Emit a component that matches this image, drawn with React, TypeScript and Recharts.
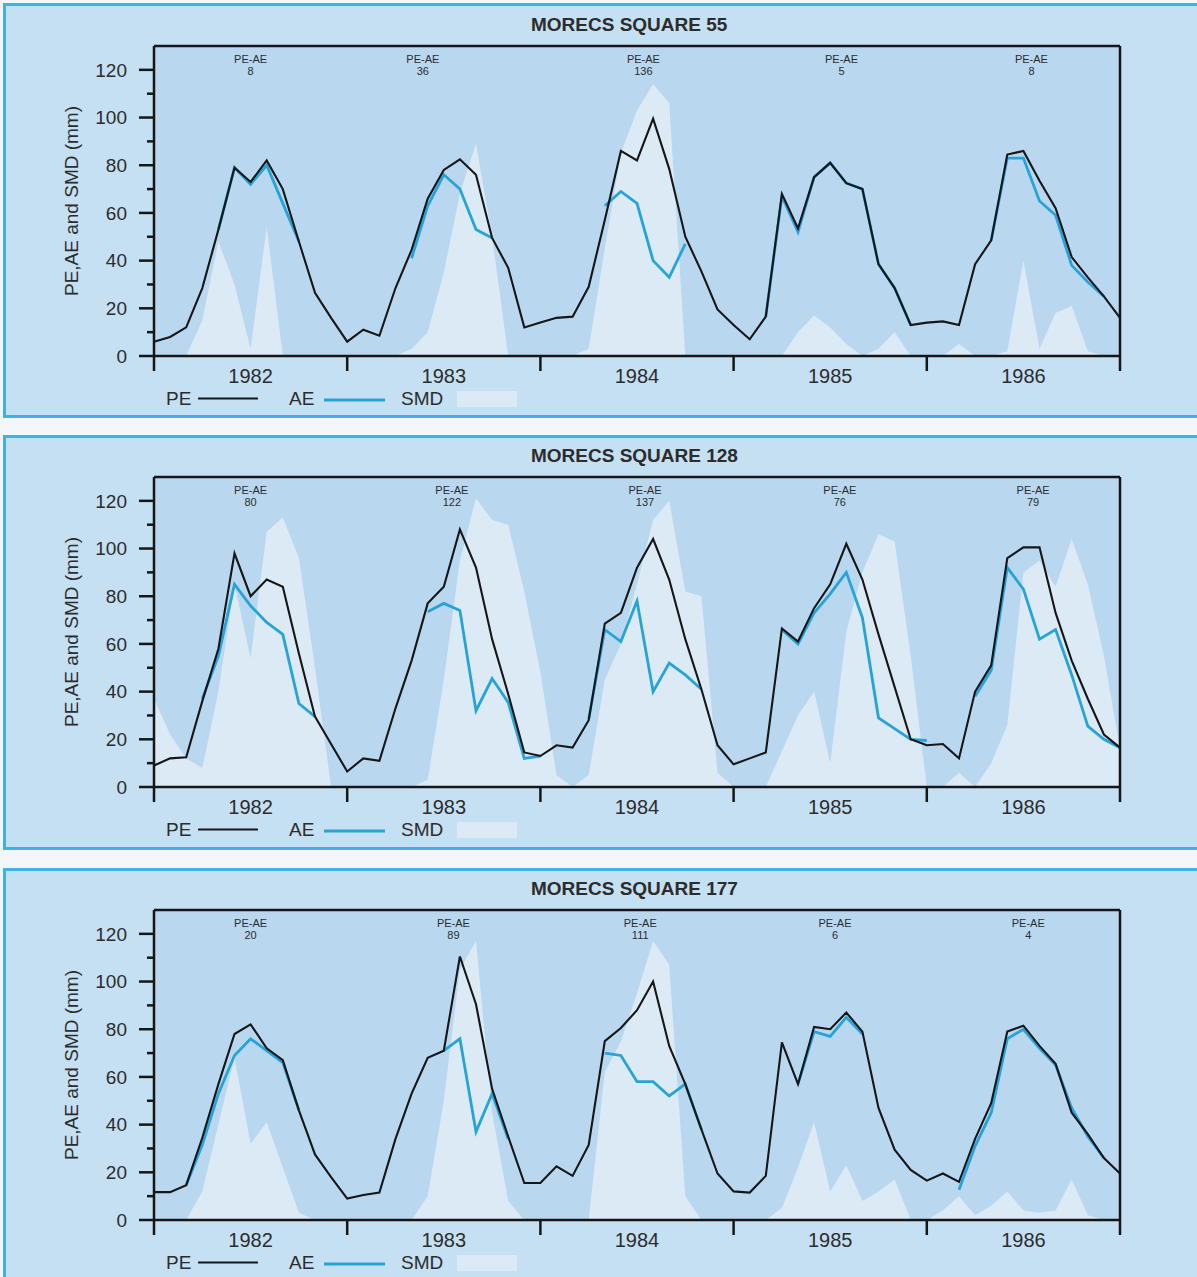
import React from 'react';
import {
  ComposedChart, Line, Area, XAxis, YAxis, CartesianGrid, ReferenceLine, ReferenceDot,
} from 'recharts';

// ---------- data ----------
// month index from January 1982 (0) to the end of 1986 (60)
const monthIndex: number[] = Array.from({ length: 61 }, (_, i) => i);
const years = ['1982', '1983', '1984', '1985', '1986'];
const xTicks = [0, 6, 12, 18, 24, 30, 36, 42, 48, 54, 60];
const yTicksLeft = [0, 10, 20, 30, 40, 50, 60, 70, 80, 90, 100, 110, 120];
const yTicksRight = [10, 20, 30, 40, 50, 60, 70, 80, 90, 100, 110, 120];

const titles = ['MORECS SQUARE 55', 'MORECS SQUARE 128', 'MORECS SQUARE 177'];

const pe55 = [
  6, 8, 12, 28.5, 53, 79, 73, 82, 70, 48,
  26.5, 16, 6, 11, 8.5, 28.5, 44.5, 66, 78, 82.5,
  76, 49.5, 37, 12, 14, 16, 16.5, 29, 57, 86,
  82, 99.5, 78.5, 50, 35.5, 19.5, 13, 7, 16.5, 68,
  53.5, 75, 81, 72.5, 70, 38.5, 28.5, 13, 14, 14.5,
  13, 38.5, 48.5, 84.5, 86, 73.5, 62, 41.5, 33, 25,
  16,
];
const ae55 = [
  null, null, null, null, 53, 79, 72, 80, 64, 48,
  null, null, null, null, null, null, 41, 63, 76, 70,
  53, 49.5, null, null, null, null, null, null, 63, 69,
  64, 40, 33, 47, null, null, null, null, 16.5, 67,
  52, 75, 81, 72.5, 70, 38.5, 28.5, 13, null, null,
  null, null, 48.5, 83, 83, 65, 59, 38, 31, 25,
  null,
];
const smd55 = [
  0, 0, 0, 15, 48, 30, 3, 54, 0, 0,
  0, 0, 0, 0, 0, 0, 3, 10, 35, 68,
  89, 50, 0, 0, 0, 0, 0, 3, 45, 85,
  103, 114, 106, 0, 0, 0, 0, 0, 0, 0,
  10, 17, 12, 5, 0, 3, 10, 0, 0, 0,
  5, 0, 0, 2, 40, 3, 18, 21, 2, 0,
  0,
];
const peae55 = [8, 36, 136, 5, 8];
const peaeAt55 = [6, 16.7, 30.4, 42.7, 54.5];

const pe128 = [
  9, 12, 12.5, 36, 58, 98, 80, 87, 84, 56,
  29.5, 18, 6.5, 12, 11, 33, 53, 77, 84, 108,
  92, 62, 39, 14.5, 13, 17.5, 16.5, 28, 68.5, 73,
  92, 104, 87, 62, 41, 17.5, 9.5, 12, 14.5, 66.5,
  61, 75, 85, 102, 87, 64, 42, 20, 17.5, 18,
  12, 40, 51, 96, 100.5, 100.5, 73, 53, 37, 22,
  16.5,
];
const ae128 = [
  null, null, null, 37, 55, 85, 76, 69, 64, 35,
  29.5, null, null, null, null, null, null, 73.5, 77, 74,
  32, 45.5, 35.5, 12, 13, null, null, 28.5, 66, 61,
  78, 40, 52, 47, 41, null, null, null, null, 66,
  60, 73, 81, 90, 71, 29, 24.5, 20, 19.5, null,
  null, 38, 49, 92, 83, 62, 66, 47, 25.5, 20,
  16.5,
];
const smd128 = [
  37, 22, 12, 8, 40, 85, 54, 107, 113, 96,
  50, 0, 0, 0, 0, 0, 0, 3, 45, 95,
  121, 112, 110, 82, 48, 5, 0, 5, 45, 60,
  85, 112, 120, 82, 80, 6, 0, 0, 0, 15,
  30, 40, 10, 65, 90, 106, 103, 55, 0, 0,
  6, 0, 10, 26, 90, 95, 84, 104, 85, 55,
  16,
];
const peae128 = [80, 122, 137, 76, 79];
const peaeAt128 = [6, 18.5, 30.5, 42.6, 54.6];

const pe177 = [
  11.7, 11.7, 14.6, 34.5, 57, 78, 82, 72, 67, 46,
  27.5, 18, 9, 10.5, 11.5, 34, 53, 68, 71, 110.5,
  90.5, 55, 35, 15.5, 15.5, 22.5, 18.5, 31.5, 75, 80.5,
  88, 100, 73, 57, 38, 19.5, 12, 11.5, 18.5, 74.5,
  57, 81, 80, 87, 79, 47, 29.5, 21, 16.5, 19.5,
  16, 34, 49, 79, 81.5, 73, 65.5, 45, 36, 26,
  19.5,
];
const ae177 = [
  null, null, 14.6, 31.5, 53, 69, 76, 71, 66, 46,
  null, null, null, null, null, null, null, null, 71, 76,
  37, 53, 34, null, null, null, null, null, 70, 69,
  58, 58, 52, 57, 38, null, null, null, null, null,
  57, 79, 77, 85, 78, null, null, null, null, null,
  12.7, 31, 45, 76, 80, 72, 65, 47, 35, 26,
  null,
];
const smd177 = [
  0, 0, 0, 12, 40, 68, 32, 41, 22, 3,
  0, 0, 0, 0, 0, 0, 0, 10, 50, 105,
  117, 45, 8, 0, 0, 0, 0, 0, 62, 75,
  95, 117, 107, 10, 0, 0, 0, 0, 0, 5,
  22, 41, 12, 23, 8, 12, 17, 0, 0, 4,
  10, 2, 6, 12, 4, 3, 4, 17, 2, 0,
  0,
];
const peae177 = [20, 89, 111, 6, 4];
const peaeAt177 = [6, 18.6, 30.2, 42.3, 54.3];

// ---------- styles ----------
const W = 1197;
const CHART_H = 413;
const FONT = '"Liberation Sans", Arial, Helvetica, sans-serif';
const PANEL_BG = '#c5e0f3';
const PLOT_BG = '#b9d8f0';
const SMD_FILL = '#dceaf6';
const BORDER = '#3fb2e5';
const INK = '#161616';
const AE_COL = '#26a3d8';
const TEXT = '#2c2c2c';

const XTick = (props: any) => {
  const { x, y, payload } = props;
  const v = payload.value as number;
  if (v % 12 === 0) {
    return <line x1={x} x2={x} y1={y} y2={y + 15} stroke={INK} strokeWidth={2.5} />;
  }
  const idx = Math.round((v - 6) / 12);
  return (
    <text x={x} y={y + 27} textAnchor="middle" fontSize={20} fill={TEXT} fontFamily={FONT}>
      {years[idx]}
    </text>
  );
};

const LeftTick = (props: any) => {
  const { x, y, payload } = props;
  const v = payload.value as number;
  const major = v % 20 === 0;
  return (
    <g>
      <line x1={x} x2={x - (major ? 15 : 7)} y1={y} y2={y} stroke={INK} strokeWidth={2.5} />
      {major && (
        <text x={x - 27} y={y} dy="0.36em" textAnchor="end" fontSize={19} fill={TEXT} fontFamily={FONT}>
          {v}
        </text>
      )}
    </g>
  );
};

const RightTick = (props: any) => {
  const { x, y, payload } = props;
  const v = payload.value as number;
  const major = v % 20 === 0;
  return <line x1={x} x2={x + (major ? 14 : 7)} y1={y} y2={y} stroke={INK} strokeWidth={2.5} />;
};

type PanelProps = {
  top: number;
  chartTop: number;
  title: string;
  pe: (number | null)[];
  ae: (number | null)[];
  smd: (number | null)[];
  peae: number[];
  peaeAt: number[];
};

function Panel({ top, chartTop, title, pe, ae, smd, peae, peaeAt }: PanelProps) {
  const data = monthIndex.map((m, i) => ({ m, pe: pe[i], ae: ae[i], smd: smd[i] }));
  const rel = chartTop;
  return (
    <>
      <div
        style={{
          position: 'absolute', left: 3, top, width: 1210, height: 415,
          border: `3px solid ${BORDER}`, background: PANEL_BG, boxSizing: 'border-box',
        }}
      />
      <div style={{ position: 'absolute', left: 0, top: rel, width: W, height: CHART_H }}>
        <ComposedChart
          width={W}
          height={CHART_H}
          data={data}
          margin={{ top: 42, right: 57, bottom: 31, left: 94 }}
        >
          <CartesianGrid horizontal={false} vertical={false} fill={PLOT_BG} stroke="none" />
          <XAxis
            type="number"
            dataKey="m"
            domain={[0, 60]}
            ticks={xTicks}
            interval={0}
            tickSize={0}
            tickMargin={0}
            height={30}
            tickLine={false}
            axisLine={{ stroke: INK, strokeWidth: 2.5 }}
            tick={(p: any) => <XTick {...p} />}
          />
          <YAxis
            type="number"
            domain={[0, 130]}
            ticks={yTicksLeft}
            interval={0}
            width={60}
            tickSize={0}
            tickMargin={0}
            tickLine={false}
            axisLine={{ stroke: INK, strokeWidth: 2.5 }}
            tick={(p: any) => <LeftTick {...p} />}
          />
          <YAxis
            yAxisId="r"
            orientation="right"
            type="number"
            domain={[0, 130]}
            ticks={yTicksRight}
            interval={0}
            width={20}
            tickSize={0}
            tickMargin={0}
            tickLine={false}
            axisLine={{ stroke: INK, strokeWidth: 2.5 }}
            tick={(p: any) => <RightTick {...p} />}
          />
          <Area
            dataKey="smd"
            type="linear"
            fill={SMD_FILL}
            fillOpacity={1}
            stroke="none"
            dot={false}
            activeDot={false}
            isAnimationActive={false}
          />
          <Line
            dataKey="ae"
            type="linear"
            stroke={AE_COL}
            strokeWidth={2.8}
            dot={false}
            activeDot={false}
            connectNulls={false}
            isAnimationActive={false}
          />
          <Line
            dataKey="pe"
            type="linear"
            stroke={INK}
            strokeWidth={2.1}
            dot={false}
            activeDot={false}
            isAnimationActive={false}
          />
          <ReferenceLine y={130} stroke={INK} strokeWidth={2.5} />
          {peae.map((v, k) => (
            <ReferenceDot
              key={k}
              x={peaeAt[k]}
              y={130}
              r={0}
              shape={(p: any) => (
                <g>
                  <text x={p.cx} y={p.cy + 16.5} textAnchor="middle" fontSize={11} fill={TEXT} fontFamily={FONT}>
                    PE-AE
                  </text>
                  <text x={p.cx} y={p.cy + 29} textAnchor="middle" fontSize={11} fill={TEXT} fontFamily={FONT}>
                    {v}
                  </text>
                </g>
              )}
            />
          ))}
        </ComposedChart>
      </div>
      <svg
        width={W}
        height={CHART_H}
        style={{ position: 'absolute', left: 0, top: rel, pointerEvents: 'none' }}
        fontFamily={FONT}
      >
        <text x={531} y={26.5} fontSize={19} fontWeight="bold" fill={TEXT}>{title}</text>
        <text
          transform={`translate(78, ${42 + 155}) rotate(-90)`}
          textAnchor="middle"
          fontSize={19}
          fill={TEXT}
        >
          PE,AE and SMD (mm)
        </text>
        <text x={166} y={401} fontSize={19} fill={TEXT}>PE</text>
        <line x1={198} x2={258} y1={394.5} y2={394.5} stroke={INK} strokeWidth={2} />
        <text x={289} y={401} fontSize={19} fill={TEXT}>AE</text>
        <line x1={324} x2={385} y1={396} y2={396} stroke={AE_COL} strokeWidth={2.8} />
        <text x={401} y={401} fontSize={19} fill={TEXT}>SMD</text>
        <rect x={457} y={387} width={60} height={16} fill={SMD_FILL} />
      </svg>
    </>
  );
}

export default function App() {
  return (
    <div
      style={{
        position: 'absolute', left: 0, top: 0, width: W, height: 1277,
        overflow: 'hidden', background: '#f4f7f9', fontFamily: FONT,
      }}
    >
      <Panel top={3} chartTop={3.5} title={titles[0]} pe={pe55} ae={ae55} smd={smd55} peae={peae55} peaeAt={peaeAt55} />
      <Panel top={435} chartTop={435} title={titles[1]} pe={pe128} ae={ae128} smd={smd128} peae={peae128} peaeAt={peaeAt128} />
      <Panel top={868} chartTop={868} title={titles[2]} pe={pe177} ae={ae177} smd={smd177} peae={peae177} peaeAt={peaeAt177} />
    </div>
  );
}
